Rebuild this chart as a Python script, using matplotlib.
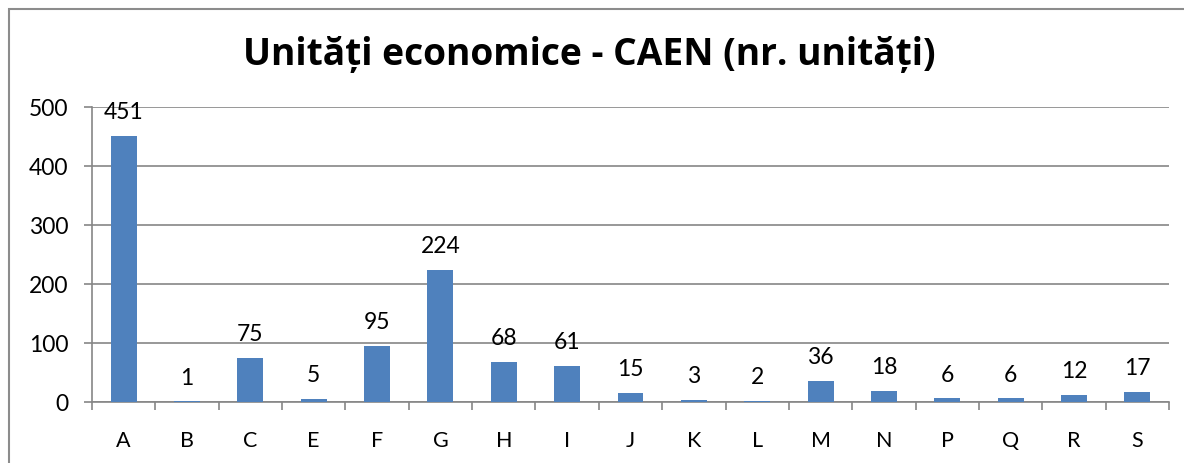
import matplotlib
matplotlib.use("Agg")
import matplotlib.pyplot as plt
from matplotlib.patches import Rectangle
from matplotlib.ticker import MultipleLocator, FixedLocator

categories = ["A", "B", "C", "E", "F", "G", "H", "I", "J", "K", "L", "M", "N", "P", "Q", "R", "S"]
values = [451, 1, 75, 5, 95, 224, 68, 61, 15, 3, 2, 36, 18, 6, 6, 12, 17]
title = "Unități economice - CAEN (nr. unități)"

bar_color = "#4F81BD"
grid_color = "#868686"
font = "Lato"

fig = plt.figure(figsize=(11.84, 4.64), dpi=100)
ax = fig.add_axes([92/1184, 1-403/464, (1169-92)/1184, (403-108)/464])

x = list(range(len(categories)))
bars = ax.bar(x, values, width=0.41, color=bar_color, zorder=3)
ax.set_xlim(-0.5, len(categories) - 0.5)
ax.set_ylim(0, 500)
ax.yaxis.set_major_locator(MultipleLocator(100))
ax.set_xticks(x)
ax.set_xticklabels(categories, fontfamily=font, fontsize=15.5)
ax.xaxis.set_minor_locator(FixedLocator([i + 0.5 for i in range(-1, len(categories))]))
ax.tick_params(axis="x", which="major", length=0, pad=20)
ax.tick_params(axis="x", which="minor", length=6, width=1.2, color=grid_color)
ax.tick_params(axis="y", length=6, width=1.2, color=grid_color, pad=11, labelsize=16.5)
for lab in ax.get_yticklabels():
    lab.set_fontfamily(font)
ax.grid(axis="y", color=grid_color, linewidth=1.2, zorder=0)
for s in ["top", "right"]:
    ax.spines[s].set_visible(False)
for s in ["left", "bottom"]:
    ax.spines[s].set_color(grid_color)
    ax.spines[s].set_linewidth(1.2)

for xi, v in zip(x, values):
    ax.annotate(str(v), (xi, v), xytext=(0, 10), textcoords="offset points",
                ha="center", va="bottom", fontsize=16.5, fontfamily=font)

fig.text(589/1184, 1-55/464, title, ha="center", va="center",
         fontsize=26.7, fontweight="bold", fontfamily="Open Sans")

fig.patches.append(Rectangle((9/1184, -0.1), 1.2, 1 - 10/464 + 0.1, transform=fig.transFigure,
                             fill=False, edgecolor="#8c8c8c", linewidth=1.5))

fig.savefig("out.png", dpi=100)
